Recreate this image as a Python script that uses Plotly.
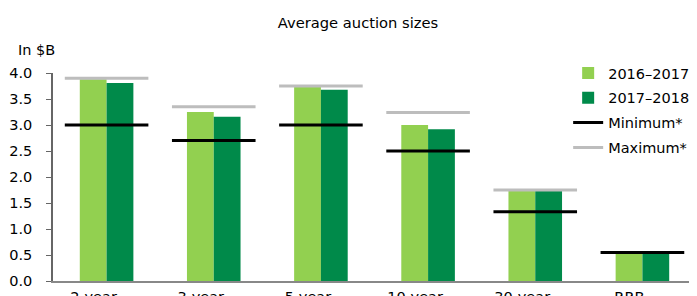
import plotly.graph_objects as go

categories = ["2-year", "3-year", "5-year", "10-year", "30-year", "RRB"]
s2016_2017e = [3.88, 3.25, 3.73, 3.00, 1.73, 0.52]
s2017_2018f = [3.81, 3.16, 3.68, 2.92, 1.73, 0.52]
minimum = [3.00, 2.70, 3.00, 2.50, 1.33, 0.55]
maximum = [3.90, 3.35, 3.75, 3.24, 1.75, 0.55]
y_ticks = [0.0, 0.5, 1.0, 1.5, 2.0, 2.5, 3.0, 3.5, 4.0]

FONT = "DejaVu Sans, sans-serif"
idx = list(range(len(categories)))
half = 0.39

def seg(vals):
    xs, ys = [], []
    for i, v in zip(idx, vals):
        xs += [i - half, i + half, None]
        ys += [v, v, None]
    return xs, ys

fig = go.Figure()
fig.add_trace(go.Bar(x=idx, y=s2016_2017e, name="2016\u20132017e", legendgroup="a",
                     marker=dict(color="#92d050", line=dict(width=0)), legendrank=1))
fig.add_trace(go.Bar(x=idx, y=s2017_2018f, name="2017\u20132018f", legendgroup="b",
                     marker=dict(color="#008a4a", line=dict(width=0)), legendrank=2))
mx, my = seg(maximum)
fig.add_trace(go.Scatter(x=mx, y=my, mode="lines", name="Maximum*", legendgroup="d",
                         line=dict(color="#bdbdbd", width=3), legendrank=4))
nx, ny = seg(minimum)
fig.add_trace(go.Scatter(x=nx, y=ny, mode="lines", name="Minimum*", legendgroup="c",
                         line=dict(color="#000000", width=3), legendrank=3))

fig.update_layout(
    width=689, height=288,
    margin=dict(l=45, r=1, t=65, b=15, autoexpand=False),
    paper_bgcolor="white", plot_bgcolor="white",
    font=dict(family=FONT, size=14.5, color="#000"),
    barmode="group", bargap=0.5, bargroupgap=0,
    title=dict(text="Average auction sizes", x=0.508, xanchor="center",
               y=0.948, yanchor="middle", font=dict(size=14.7)),
    showlegend=True,
    legend=dict(xref="container", yref="container", x=0.813, xanchor="left",
                y=0.830, yanchor="top",
                bgcolor="rgba(0,0,0,0)", font=dict(size=14.5),
                traceorder="grouped", tracegroupgap=3, itemwidth=30),
    xaxis=dict(range=[-0.5, 5.5], tickvals=idx, ticktext=categories,
               showgrid=False, zeroline=False, showline=True, automargin=False,
               linecolor="#888", linewidth=2, ticks="", ticklabelstandoff=2,
               ticklabelshift=-13, tickfont=dict(size=14.5)),
    yaxis=dict(range=[0, 4.0], tickvals=y_ticks,
               ticktext=[f"{v:.1f}" for v in y_ticks],
               showgrid=False, zeroline=False, showline=True, automargin=False,
               linecolor="#666", linewidth=1.5, ticks="outside", ticklen=5,
               tickcolor="#666", tickwidth=1, ticklabelstandoff=11,
               tickfont=dict(size=14.5)),
    annotations=[dict(text="In $B", xref="paper", yref="paper",
                      x=-0.0575, y=1.11, xanchor="left", yanchor="middle",
                      showarrow=False, font=dict(size=14.5))],
)

fig.write_html("out.html")
